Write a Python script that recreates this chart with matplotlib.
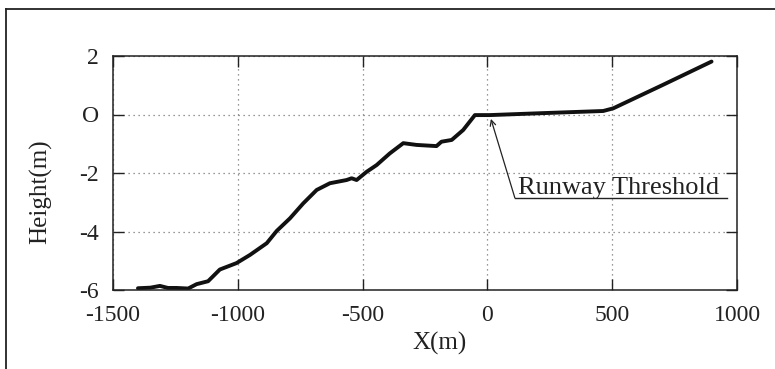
import matplotlib
matplotlib.use("Agg")
import matplotlib.pyplot as plt
from matplotlib.lines import Line2D

# terrain profile
x_m = [-1400, -1350, -1312, -1280, -1245, -1199, -1165, -1119, -1072, -1005,
       -951, -884, -844, -791, -738, -684, -631, -564, -544, -524,
       -484, -444, -391, -337, -284, -204, -184, -143, -97, -50,
       10, 200, 464, 504, 700, 898]
height_m = [-5.94, -5.92, -5.86, -5.93, -5.93, -5.95, -5.8, -5.7, -5.3, -5.08,
            -4.8, -4.4, -3.98, -3.55, -3.04, -2.58, -2.35, -2.24, -2.18, -2.24,
            -1.96, -1.73, -1.33, -0.98, -1.04, -1.08, -0.93, -0.87, -0.53, -0.02,
            -0.02, 0.04, 0.12, 0.21, 1.0, 1.81]

x_ticks = [-1500, -1000, -500, 0, 500, 1000]
y_ticks = [-6, -4, -2, 0, 2]
y_tick_labels = ["-6", "-4", "-2", "O", "2"]

plt.rcParams["font.family"] = ["Liberation Serif", "DejaVu Serif"]
plt.rcParams["axes.unicode_minus"] = False

fig = plt.figure(figsize=(7.75, 3.69), dpi=100)
ax = fig.add_axes([113 / 775, 1 - 290 / 369, 624 / 775, 234 / 369])

ax.plot(x_m, height_m, color="#111111", lw=2.8, solid_capstyle="round")

ax.set_xlim(-1500, 1000)
ax.set_ylim(-6, 2)
ax.set_xticks(x_ticks)
ax.set_yticks(y_ticks)
ax.set_yticklabels(y_tick_labels)
ax.tick_params(direction="in", top=True, right=True, length=8, width=1,
               labelsize=17, colors="#222222")
ax.tick_params(axis="x", pad=11)
ax.tick_params(axis="y", pad=10)
ax.grid(True, linestyle=(0, (1, 3)), color="#777777", lw=0.9)
for s in ax.spines.values():
    s.set_linewidth(1.1)
    s.set_color("#222222")

ax.set_xlabel("X(m)", fontsize=18, color="#222222")
ax.set_ylabel("Height(m)", fontsize=18, color="#222222")
ax.xaxis.set_label_coords(0.524, -0.18)
ax.yaxis.set_label_coords(-0.098, 0.42)

# runway threshold callout
ax.annotate("", xy=(14, -0.15), xytext=(110, -2.85),
            arrowprops=dict(arrowstyle="->", color="#222222", lw=0.9,
                            shrinkA=0, shrinkB=0))
ax.plot([110, 960], [-2.85, -2.85], color="#222222", lw=1.0)
ax.text(122, -2.72, "Runway Threshold", fontsize=19, color="#222222",
        ha="left", va="baseline")

# outer frame of the scanned figure
fig.add_artist(Line2D([6 / 775, 1], [1 - 9 / 369, 1 - 9 / 369],
                      transform=fig.transFigure, color="#222222", lw=1.3))
fig.add_artist(Line2D([6 / 775, 6 / 775], [0, 1 - 9 / 369],
                      transform=fig.transFigure, color="#222222", lw=1.3))

fig.savefig("out.png", dpi=100)
